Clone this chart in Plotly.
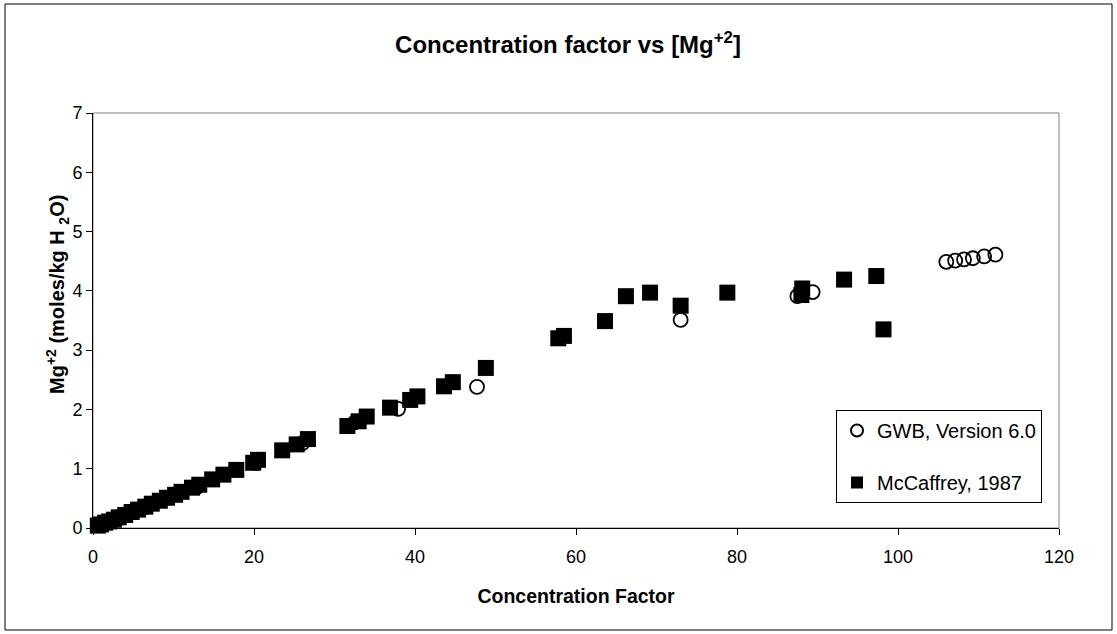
import plotly.graph_objects as go

# GWB, Version 6.0 (open circles)
gwb_x = [2.0, 6.5, 12.9, 20.2, 26.0, 32.5, 37.9, 47.7, 73.0, 87.5, 89.4,
         106.0, 107.1, 108.2, 109.3, 110.7, 112.1]
gwb_y = [0.11, 0.35, 0.69, 1.10, 1.43, 1.78, 2.01, 2.38, 3.51, 3.91, 3.98,
         4.49, 4.51, 4.53, 4.55, 4.58, 4.61]

# McCaffrey, 1987 (filled squares)
mc_x = [0.6, 1.0, 1.5, 2.0, 2.6, 3.2, 4.0, 4.8, 5.6, 6.5, 7.3, 8.3, 9.2, 10.2,
        11.0, 12.3, 13.2, 14.8, 16.2, 17.8, 19.9, 20.5, 23.5, 25.3, 26.7,
        31.6, 33.0, 34.0, 36.9, 39.4, 40.3, 43.6, 44.7, 48.8, 57.8, 58.5,
        63.6, 66.2, 69.2, 73.0, 78.8, 88.0, 88.1, 93.3, 97.3, 98.2]
mc_y = [0.04, 0.06, 0.09, 0.11, 0.14, 0.18, 0.22, 0.27, 0.31, 0.36, 0.41,
        0.46, 0.51, 0.56, 0.61, 0.68, 0.73, 0.82, 0.90, 0.98, 1.10, 1.15,
        1.31, 1.41, 1.50, 1.72, 1.80, 1.88, 2.03, 2.16, 2.22, 2.39, 2.46,
        2.70, 3.20, 3.24, 3.49, 3.91, 3.97, 3.75, 3.97, 3.93, 4.04, 4.19,
        4.25, 3.35]

FONT = "Liberation Sans, Arial, sans-serif"

fig = go.Figure()
fig.add_trace(go.Scatter(
    x=gwb_x, y=gwb_y, mode="markers", name="GWB, Version 6.0",
    legendgroup="a",
    marker=dict(symbol="circle-open", size=14, color="black",
                line=dict(width=1.8, color="black")),
    cliponaxis=False))
fig.add_trace(go.Scatter(
    x=mc_x, y=mc_y, mode="markers", name="McCaffrey, 1987",
    legendgroup="b",
    marker=dict(symbol="square", size=16, color="black",
                line=dict(width=0)),
    cliponaxis=False))

L, R, T, B = 93, 58, 113, 106
W, H = 1117, 634
pw = W - L - R
ph = H - T - B

fig.update_layout(
    width=W, height=H,
    margin=dict(l=L, r=R, t=T, b=B),
    paper_bgcolor="white", plot_bgcolor="white",
    font=dict(family=FONT, size=18, color="black"),
    title=dict(text="<b>Concentration factor vs [Mg<sup>+2</sup>]</b>",
               x=568 / W, xanchor="center", y=1 - 45 / H, yanchor="middle",
               font=dict(family=FONT, size=24, color="black")),
    xaxis=dict(range=[0, 120], dtick=20, tick0=0,
               showgrid=False, zeroline=False,
               showline=True, linecolor="black", linewidth=1,
               ticks="outside", ticklen=6, tickcolor="black",
               ticklabelstandoff=6,
               tickfont=dict(family=FONT, size=18),
               title=dict(text="<b>Concentration Factor</b>",
                          font=dict(family=FONT, size=19.5), standoff=23)),
    yaxis=dict(range=[0, 7], dtick=1, tick0=0,
               showgrid=False, zeroline=False,
               showline=True, linecolor="black", linewidth=1,
               ticks="outside", ticklen=6, tickcolor="black",
               tickfont=dict(family=FONT, size=18)),
    legend=dict(x=(836 - L) / pw, y=(H - B - 410) / ph,
                xanchor="left", yanchor="top",
                bgcolor="white", bordercolor="black", borderwidth=1,
                font=dict(family=FONT, size=20, color="black"),
                itemsizing="constant", tracegroupgap=23,
                itemwidth=30),
    showlegend=True,
)

# y-axis title as an annotation (placed like the reference)
fig.add_annotation(
    text="<b>Mg<sup>+2</sup> (moles/kg H <sub>2</sub>O)</b>",
    xref="paper", yref="paper", x=(57 - L) / pw, y=(H - B - 295) / ph,
    xanchor="center", yanchor="middle", textangle=-90, showarrow=False,
    font=dict(family=FONT, size=20, color="black"))

# plot-area border (grey) and outer chart frame (black)
fig.add_shape(type="rect", xref="paper", yref="paper", x0=0, y0=0, x1=1, y1=1,
              line=dict(color="#808080", width=1), layer="below")
fig.add_shape(type="rect", xref="paper", yref="paper",
              x0=(5 - L) / pw, x1=(1112 - L) / pw,
              y0=(H - B - 630) / ph, y1=(H - B - 4) / ph,
              line=dict(color="black", width=1), layer="below")

fig.write_html("out.html", config={"displayModeBar": False},
               post_script="document.body.style.margin='0';document.body.style.padding='0';")
